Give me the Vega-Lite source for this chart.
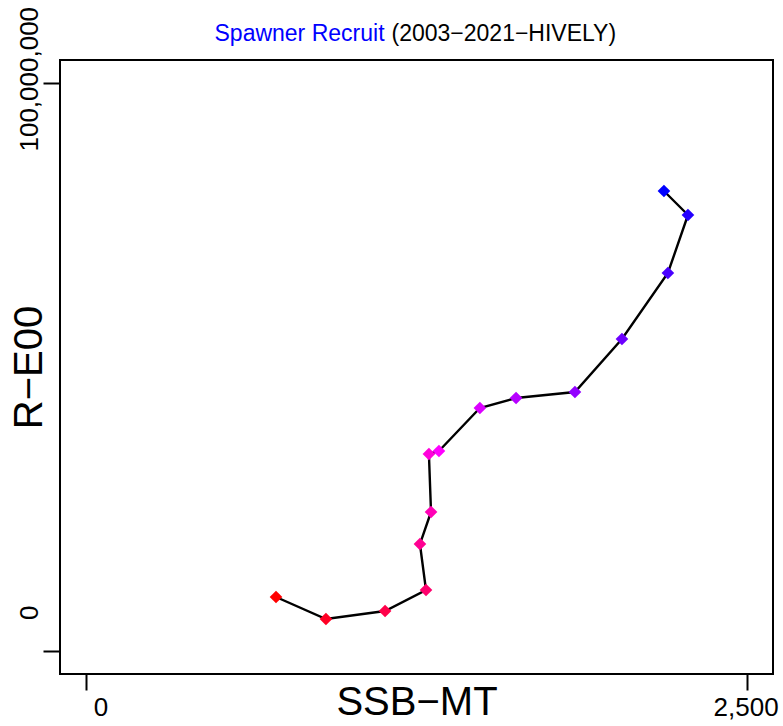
{
  "$schema": "https://vega.github.io/schema/vega-lite/v6.json",
  "autosize": "none",
  "padding": {"left": 60, "top": 60, "right": 10, "bottom": 52},
  "width": 713,
  "height": 614,
  "background": "white",
  "config": {
    "font": "Liberation Sans",
    "view": {"stroke": "black", "strokeWidth": 2},
    "axis": {
      "grid": false,
      "domain": false,
      "labelFont": "Liberation Sans",
      "titleFont": "Liberation Sans",
      "labelColor": "black",
      "titleColor": "black",
      "tickColor": "black",
      "titleFontWeight": "normal",
      "labelFlush": false,
      "labelOverlap": false
    }
  },
  "data": {
    "values": [
      {"year": 2003, "ssb": 718, "rec": 9544000},
      {"year": 2004, "ssb": 907, "rec": 5674000},
      {"year": 2005, "ssb": 1131, "rec": 7081000},
      {"year": 2006, "ssb": 1286, "rec": 10775000},
      {"year": 2007, "ssb": 1263, "rec": 18866000},
      {"year": 2008, "ssb": 1305, "rec": 24495000},
      {"year": 2009, "ssb": 1297, "rec": 34697000},
      {"year": 2010, "ssb": 1335, "rec": 35225000},
      {"year": 2011, "ssb": 1490, "rec": 42788000},
      {"year": 2012, "ssb": 1627, "rec": 44547000},
      {"year": 2013, "ssb": 1850, "rec": 45603000},
      {"year": 2014, "ssb": 2028, "rec": 54925000},
      {"year": 2015, "ssb": 2202, "rec": 66534000},
      {"year": 2016, "ssb": 2278, "rec": 76736000},
      {"year": 2017, "ssb": 2187, "rec": 80958000}
    ]
  },
  "resolve": {"axis": {"x": "independent", "y": "independent"}},
  "layer": [
    {
      "mark": {"type": "line", "color": "black", "strokeWidth": 2.4},
      "encoding": {
        "x": {
          "field": "ssb", "type": "quantitative",
          "scale": {"domain": [-100, 2600], "nice": false, "zero": false},
          "axis": {
            "orient": "bottom",
            "values": [0, 2500],
            "format": ",.0f",
            "title": "SSB−MT",
            "titleFontSize": 40,
            "titleBaseline": "alphabetic",
            "titleAlign": "center",
            "titleX": 356.5,
            "titleY": 40,
            "ticks": true,
            "tickSize": 16,
            "tickWidth": 2,
            "labelFontSize": 26,
            "labelBaseline": "alphabetic",
            "labelAlign": "center",
            "labelPadding": 25,
            "labelOffset": {"condition": {"test": "datum.value === 0", "value": 14}, "value": -1}
          }
        },
        "y": {
          "field": "rec", "type": "quantitative",
          "scale": {"domain": [-4000000, 104000000], "nice": false, "zero": false},
          "axis": {
            "orient": "left",
            "values": [0, 100000000],
            "format": ",.0f",
            "title": "R−E00",
            "titleFontSize": 40,
            "titleAngle": 270,
            "titleBaseline": "alphabetic",
            "titleAlign": "center",
            "titleX": -19,
            "ticks": true,
            "tickSize": 17,
            "tickWidth": 2,
            "labelFontSize": 26,
            "labelAngle": 270,
            "labelAlign": "center",
            "labelBaseline": "alphabetic",
            "labelPadding": 6,
            "labelOffset": {"condition": {"test": "datum.value === 0", "value": -39}, "value": -4}
          }
        },
        "order": {"field": "year", "type": "quantitative"}
      }
    },
    {
      "mark": {"type": "point", "shape": "diamond", "filled": true, "opacity": 1, "size": 160},
      "encoding": {
        "x": {
          "field": "ssb", "type": "quantitative",
          "axis": {
            "orient": "top",
            "title": "Spawner Recruit",
            "titleColor": "#0000FF",
            "titleFontSize": 23,
            "titleAngle": 0,
            "titleAlign": "left",
            "titleBaseline": "alphabetic",
            "titleX": 154,
            "titleY": -19.5,
            "labels": false,
            "ticks": false,
            "domain": false
          }
        },
        "y": {
          "field": "rec", "type": "quantitative",
          "axis": {
            "orient": "right",
            "title": "(2003−2021−HIVELY)",
            "titleColor": "black",
            "titleFontSize": 23,
            "titleAngle": 0,
            "titleAlign": "left",
            "titleBaseline": "alphabetic",
            "titleX": -382,
            "titleY": -19.5,
            "labels": false,
            "ticks": false,
            "domain": false
          }
        },
        "color": {
          "field": "year", "type": "ordinal", "legend": null,
          "scale": {"range": ["#FF0000", "#FF0024", "#FF0049", "#FF006D", "#FF0092", "#FF00B6", "#FF00DB", "#FF00FF", "#DB00FF", "#B600FF", "#9200FF", "#6D00FF", "#4900FF", "#2400FF", "#0000FF"]}
        }
      }
    }
  ]
}
